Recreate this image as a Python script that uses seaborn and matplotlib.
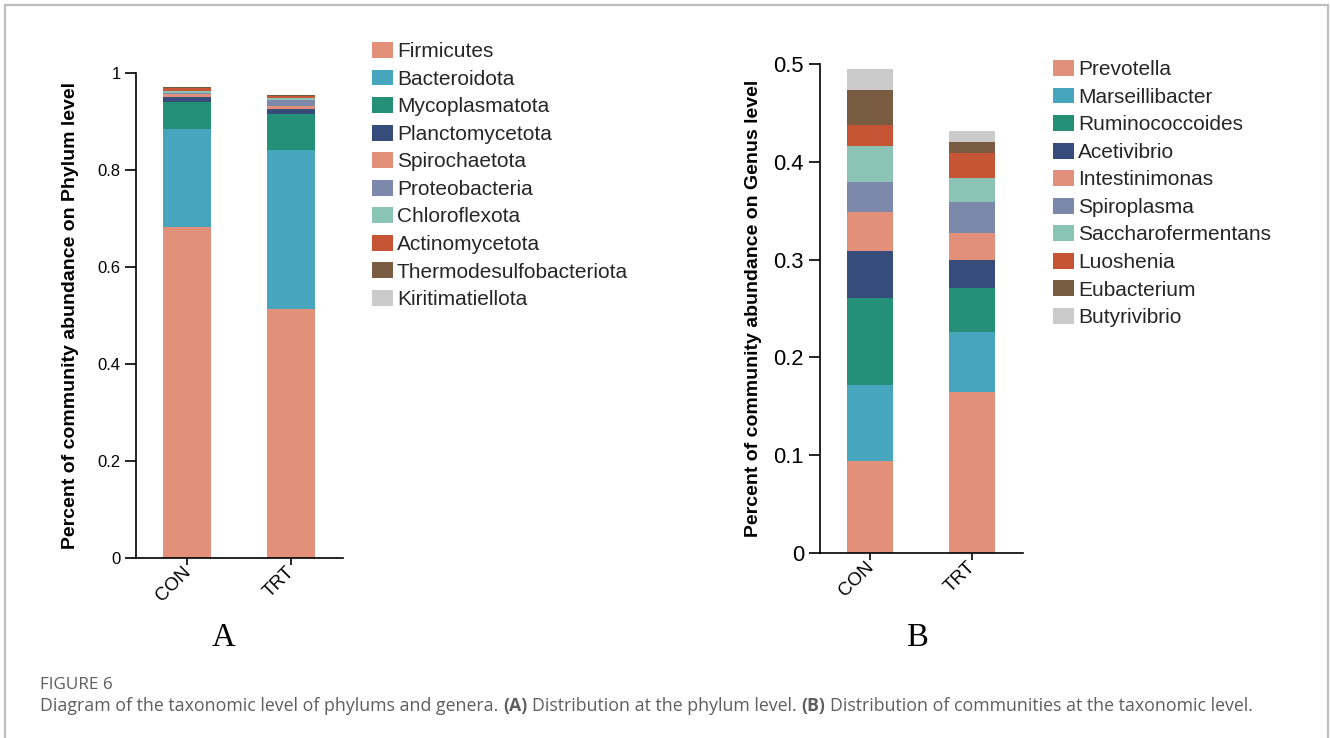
import numpy as np
import pandas as pd
import matplotlib
matplotlib.use("Agg")
import matplotlib.pyplot as plt
import matplotlib.transforms as mtrans
import seaborn as sns
from matplotlib.patches import Patch, Rectangle

# ---------------- data ----------------
groups = ["CON", "TRT"]

phyla = ["Firmicutes", "Bacteroidota", "Mycoplasmatota", "Planctomycetota",
         "Spirochaetota", "Proteobacteria", "Chloroflexota", "Actinomycetota",
         "Thermodesulfobacteriota", "Kiritimatiellota"]
phylum_con = [0.682, 0.204, 0.055, 0.011, 0.005, 0.003, 0.004, 0.005, 0.002, 0.001]
phylum_trt = [0.514, 0.327, 0.076, 0.010, 0.006, 0.011, 0.006, 0.004, 0.001, 0.001]

genera = ["Prevotella", "Marseillibacter", "Ruminococcoides", "Acetivibrio",
          "Intestinimonas", "Spiroplasma", "Saccharofermentans", "Luoshenia",
          "Eubacterium", "Butyrivibrio"]
genus_con = [0.094, 0.078, 0.089, 0.048, 0.040, 0.030, 0.037, 0.022, 0.035, 0.022]
genus_trt = [0.165, 0.061, 0.045, 0.029, 0.027, 0.032, 0.024, 0.026, 0.011, 0.012]

palette = ["#E29079", "#45A6BE", "#239077", "#364C7B", "#E29079",
           "#7D89AA", "#8BC3B4", "#C55535", "#7A5C43", "#CBCBCB"]

phylum_ticks = [0, 0.2, 0.4, 0.6, 0.8, 1.0]
phylum_ticklabels = ["0", "0.2", "0.4", "0.6", "0.8", "1"]
genus_ticks = [0, 0.1, 0.2, 0.3, 0.4, 0.5]
genus_ticklabels = ["0", "0.1", "0.2", "0.3", "0.4", "0.5"]

caption_head = "FIGURE 6"
caption_parts = [("Diagram of the taxonomic level of phylums and genera.", False),
                 ("(A)", True),
                 ("Distribution at the phylum level.", False),
                 ("(B)", True),
                 ("Distribution of communities at the taxonomic level.", False)]

# ---------------- style ----------------
sns.set_theme(style="ticks")
plt.rcParams["font.family"] = ["Liberation Sans", "DejaVu Sans"]

W, H = 1330, 738
fig = plt.figure(figsize=(W / 100, H / 100), dpi=100)
fig.patch.set_facecolor("white")


def fx(px):
    return px / W


def fy(py):
    return 1 - py / H


axA = fig.add_axes([fx(136), fy(557.7), fx(343) - fx(136), fy(73.3) - fy(557.7)])
axB = fig.add_axes([fx(820), fy(553), fx(1023) - fx(820), fy(64) - fy(553)])


def stacked(ax, taxa, con, trt, ticks, ticklabels, ylim, ylabel, label_x,
            legend_xy, ytick_size, ytick_pad):
    df = pd.DataFrame({
        "taxon": np.repeat(taxa, 2),
        "group": groups * len(taxa),
        "value": np.ravel(np.column_stack([con, trt])),
    })
    df["cum"] = df.groupby("group")["value"].cumsum()
    for i in reversed(range(len(taxa))):
        sub = df[df["taxon"] == taxa[i]]
        sns.barplot(data=sub, x="group", y="cum", order=groups,
                    color=palette[i], saturation=1, width=0.46,
                    linewidth=0, errorbar=None, ax=ax)
    ax.set_xlim(-0.49, 1.5)
    ax.set_ylim(*ylim)
    ax.set_yticks(ticks)
    ax.set_yticklabels(ticklabels)
    ax.set_xticks([0, 1])
    ax.set_xticklabels(groups, rotation=45, ha="right", va="top",
                       rotation_mode="anchor")
    ax.set_xlabel("")
    sns.despine(ax=ax)
    for s in ["left", "bottom"]:
        ax.spines[s].set_color("black")
        ax.spines[s].set_linewidth(1.2)
    ax.tick_params(axis="y", length=8, width=1.2, color="black",
                   labelsize=ytick_size, labelcolor="black", pad=ytick_pad)
    ax.tick_params(axis="x", length=5, width=1.2, color="black",
                   labelsize=13.5, labelcolor="black", pad=1)
    shift = mtrans.ScaledTranslation(-0.05, 0.03, fig.dpi_scale_trans)
    for lab in ax.get_xticklabels():
        lab.set_transform(lab.get_transform() + shift)
    ax.set_ylabel(ylabel, fontsize=14, fontweight="bold", color="black")
    ax.yaxis.set_label_coords(label_x, 0.5)
    ax.yaxis.label.set_verticalalignment("center")
    handles = [Patch(facecolor=palette[i], edgecolor="none", label=taxa[i])
               for i in range(len(taxa))]
    ax.legend(handles=handles, loc="upper left", bbox_to_anchor=legend_xy,
              bbox_transform=fig.transFigure, frameon=False, fontsize=15,
              handlelength=1.0, handleheight=0.8, labelspacing=0.4,
              handletextpad=0.2, borderpad=0, borderaxespad=0)


stacked(axA, phyla, phylum_con, phylum_trt, phylum_ticks, phylum_ticklabels,
        (0, 1.0), "Percent of community abundance on Phylum level",
        (71 - 136) / 207, (fx(372), fy(42)), 12, 3)
stacked(axB, genera, genus_con, genus_trt, genus_ticks, genus_ticklabels,
        (0, 0.5), "Percent of community abundance on Genus level",
        (753 - 820) / 203, (fx(1053), fy(60)), 15.8, 3.5)

# panel letters
fig.text(fx(223), fy(637.5), "A", ha="center", va="center", fontsize=23.5,
         family="Liberation Serif", color="black")
fig.text(fx(918), fy(637.5), "B", ha="center", va="center", fontsize=23.5,
         family="Liberation Serif", color="black")

# caption
cap_color = "#5e5e5e"
cap_size = 12.8
fig.text(fx(40), fy(689), caption_head, ha="left", va="baseline",
         fontsize=12.3, family="Open Sans", color=cap_color)

renderer = fig.canvas.get_renderer()


def text_width(s, weight):
    t = fig.text(0, 0, s, fontsize=cap_size, family="Open Sans",
                 fontweight=weight)
    w = t.get_window_extent(renderer).width
    t.remove()
    return w


space_w = text_width("x x", "normal") - text_width("xx", "normal")
x = 40.0
for s, bold in caption_parts:
    weight = "bold" if bold else "normal"
    t = fig.text(fx(x), fy(711), s, ha="left", va="baseline",
                 fontsize=cap_size, family="Open Sans", fontweight=weight,
                 color=cap_color)
    x += t.get_window_extent(renderer).width + space_w

# frame around the figure
fig.add_artist(Rectangle((fx(4.5), -0.1), fx(1327.5) - fx(4.5), fy(5.5) + 0.1,
                         transform=fig.transFigure, fill=False,
                         edgecolor="#BDBDBD", linewidth=1.6, clip_on=False))

fig.savefig("out.png", dpi=100)
